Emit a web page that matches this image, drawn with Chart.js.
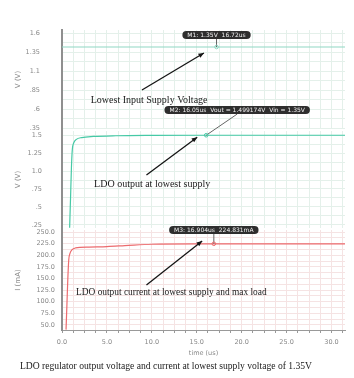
<!DOCTYPE html>
<html>
<head>
<meta charset="utf-8">
<script src="https://cdn.jsdelivr.net/npm/chart.js@4.4.1/dist/chart.umd.min.js"></script>
<style>
  html, body { margin: 0; padding: 0; background: #fff; }
  #wrap { position: relative; width: 354px; height: 378px; overflow: hidden; }
  canvas { position: absolute; left: 0; display: block; }
  #caption {
    position: absolute; left: 20px; top: 360px;
    font-family: 'Liberation Serif', serif; font-size: 9.6px; color: #222;
    white-space: nowrap;
  }
</style>
</head>
<body>
<div id="wrap">
  <canvas id="cTop" width="354" height="115" style="top:20px"></canvas>
  <canvas id="cMid" width="354" height="135" style="top:100px"></canvas>
  <canvas id="cBot" width="354" height="145" style="top:215px"></canvas>
  <div id="caption">LDO regulator output voltage and current at lowest supply voltage of 1.35V</div>
</div>
<script>
// ---- données ----
// axe du temps (us)
const xTickValues = [0, 5, 10, 15, 20, 25, 30];
const xTickLabels = ['0.0', '5.0', '10.0', '15.0', '20.0', '25.0', '30.0'];

// panneau 1 : tension d'alimentation
const timeVin = [0, 5, 10, 15, 20, 25, 31.5];
const vin     = [1.416, 1.416, 1.416, 1.416, 1.416, 1.416, 1.416];
const topTickValues = [0.35, 0.6, 0.85, 1.1, 1.35, 1.6];
const topTickLabels = ['.35', '.6', '.85', '1.1', '1.35', '1.6'];

// panneau 2 : sortie du LDO
const timeVout = [0.85, 0.95, 1.05, 1.15, 1.3, 1.6, 2.2, 3.5, 6, 10, 16, 24, 31.5];
const vout     = [0.21, 0.62, 1.05, 1.3, 1.39, 1.44, 1.465, 1.48, 1.49, 1.495, 1.497, 1.497, 1.497];
const midTickValues = [0.25, 0.5, 0.75, 1.0, 1.25, 1.5];
const midTickLabels = ['.25', '.5', '.75', '1.0', '1.25', '1.5'];

// panneau 3 : courant de sortie (mA)
const timeIout = [0.45, 0.55, 0.65, 0.75, 0.9, 1.1, 1.5, 3, 5, 7, 10, 15, 22, 31.5];
const iout     = [40, 95, 150, 190, 205, 212, 216, 218, 219, 221, 224, 225, 225, 225];
const botTickValues = [50, 75, 100, 125, 150, 175, 200, 225, 250];
const botTickLabels = ['50.0', '75.0', '100.0', '125.0', '150.0', '175.0', '200.0', '225.0', '250.0'];

// ---- annotations (coordonnées en unités de données) ----
function notes(cfg) {
  return {
    id: 'notes',
    afterDatasetsDraw(chart) {
      const { ctx, scales: { x, y } } = chart;
      const px = p => [x.getPixelForValue(p[0]), y.getPixelForValue(p[1])];
      ctx.save();

      // étiquette du marqueur + liaison
      const [mx, my] = px(cfg.markAt);
      const [bx, by] = px(cfg.boxAt);
      ctx.font = '6px "DejaVu Sans"';
      const w = ctx.measureText(cfg.boxText).width + 10, h = 8;
      ctx.strokeStyle = '#666';
      ctx.lineWidth = 1;
      ctx.beginPath();
      ctx.moveTo(bx, by + h / 2);
      ctx.lineTo(mx, my);
      ctx.stroke();
      ctx.fillStyle = '#2e2e2e';
      ctx.beginPath();
      ctx.roundRect(bx - w / 2, by - h / 2, w, h, 4);
      ctx.fill();
      ctx.fillStyle = '#f2f2f2';
      ctx.textAlign = 'center';
      ctx.textBaseline = 'middle';
      ctx.fillText(cfg.boxText, bx, by + 0.5);
      ctx.strokeStyle = cfg.color;
      ctx.beginPath();
      ctx.arc(mx, my, 1.8, 0, Math.PI * 2);
      ctx.stroke();

      // flèche
      const [ax, ay] = px(cfg.arrowFrom);
      const [tx, ty] = px(cfg.arrowTo);
      ctx.strokeStyle = '#151515';
      ctx.fillStyle = '#151515';
      ctx.lineWidth = 1.3;
      ctx.beginPath();
      ctx.moveTo(ax, ay);
      ctx.lineTo(tx, ty);
      ctx.stroke();
      const ang = Math.atan2(ty - ay, tx - ax);
      ctx.beginPath();
      ctx.moveTo(tx, ty);
      ctx.lineTo(tx - 6 * Math.cos(ang - 0.4), ty - 6 * Math.sin(ang - 0.4));
      ctx.lineTo(tx - 6 * Math.cos(ang + 0.4), ty - 6 * Math.sin(ang + 0.4));
      ctx.closePath();
      ctx.fill();

      // texte
      const [lx, ly] = px(cfg.textAt);
      ctx.font = cfg.font;
      ctx.fillStyle = '#1a1a1a';
      ctx.textAlign = 'left';
      ctx.textBaseline = 'middle';
      ctx.fillText(cfg.text, lx, ly);
      ctx.restore();
    }
  };
}

// graduations majeures + lignes intermédiaires
function withMinor(major, parts) {
  const out = [];
  major.forEach((v, i) => {
    out.push(v);
    if (i < major.length - 1) {
      for (let k = 1; k < parts; k++) out.push(v + (major[i + 1] - v) * k / parts);
    }
  });
  return out;
}

function labelFor(values, labels) {
  return v => {
    const i = values.findIndex(m => Math.abs(m - v) < 1e-6);
    return i >= 0 ? labels[i] : '';
  };
}

const xGrid = withMinor(xTickValues, 4).concat([31.25]);

function panel(id, o) {
  return new Chart(document.getElementById(id), {
    type: 'line',
    data: {
      datasets: [{
        data: o.t.map((t, i) => ({ x: t, y: o.v[i] })),
        borderColor: o.color,
        borderWidth: 1.2,
        pointRadius: 0,
        tension: 0.3,
        cubicInterpolationMode: 'monotone'
      }]
    },
    options: {
      responsive: false,
      animation: false,
      layout: { padding: { left: 12, right: 9, top: o.padTop, bottom: 0 } },
      plugins: { legend: { display: false }, tooltip: { enabled: false } },
      scales: {
        x: {
          type: 'linear',
          min: 0,
          max: 31.5,
          afterBuildTicks: s => { s.ticks = xGrid.map(v => ({ value: v })); },
          afterFit: s => { s.height = o.xHeight; },
          grid: { color: o.grid, drawTicks: o.showX, tickLength: 3, tickColor: '#999' },
          border: { display: o.showX, color: '#999', width: 1 },
          ticks: {
            display: o.showX,
            autoSkip: false,
            maxRotation: 0,
            padding: 5,
            color: '#888',
            font: { family: 'DejaVu Sans', size: 6.5 },
            callback: labelFor(xTickValues, xTickLabels)
          },
          title: {
            display: o.showX,
            text: 'time (us)',
            color: '#888',
            font: { family: 'DejaVu Sans', size: 6.5 },
            padding: { top: 0, bottom: 3 }
          }
        },
        y: {
          min: o.min,
          max: o.max,
          afterBuildTicks: s => { s.ticks = withMinor(o.ticks, 2).map(v => ({ value: v })); },
          afterFit: s => { s.width = 50; },
          // la longueur de graduation (invisible) sert à décaler les étiquettes
          grid: { color: o.grid, drawTicks: true, tickLength: o.tickGap, tickColor: 'transparent' },
          border: { color: '#8f8f8f', width: 2 },
          ticks: {
            autoSkip: false,
            padding: 2,
            color: '#888',
            font: { family: 'DejaVu Sans', size: 6.5 },
            callback: labelFor(o.ticks, o.labels)
          },
          title: {
            display: true,
            text: o.title,
            color: '#888',
            font: { family: 'DejaVu Sans', size: 7 },
            padding: { top: 2, bottom: 0 }
          }
        }
      }
    },
    plugins: [notes(o.notes)]
  });
}

panel('cTop', {
  t: timeVin, v: vin, color: '#8fd8c3', grid: '#e4f0ea',
  min: 0.337, max: 1.64, ticks: topTickValues, labels: topTickLabels,
  title: 'V (V)', tickGap: 20, padTop: 10, xHeight: 6, showX: false,
  notes: {
    boxText: 'M1: 1.35V  16.72us', boxAt: [17.2, 1.574], markAt: [17.2, 1.416], color: '#8fd8c3',
    arrowFrom: [8.9, 0.85], arrowTo: [15.8, 1.337],
    text: 'Lowest Input Supply Voltage', textAt: [3.2, 0.718], font: '10px "Liberation Serif"'
  }
});

panel('cMid', {
  t: timeVout, v: vout, color: '#46c9a6', grid: '#e4f0ea',
  min: 0.208, max: 1.556, ticks: midTickValues, labels: midTickLabels,
  title: 'V (V)', tickGap: 18, padTop: 31, xHeight: 7, showX: false,
  notes: {
    boxText: 'M2: 16.05us  Vout = 1.499174V  Vin = 1.35V', boxAt: [19.5, 1.847], markAt: [16.05, 1.497], color: '#46c9a6',
    arrowFrom: [9.4, 0.944], arrowTo: [15.05, 1.47],
    text: 'LDO output at lowest supply', textAt: [3.57, 0.82], font: '10px "Liberation Serif"'
  }
});

panel('cBot', {
  t: timeIout, v: iout, color: '#ec6b6e', grid: '#f5e3e3',
  min: 39.2, max: 254.7, ticks: botTickValues, labels: botTickLabels,
  title: 'I (mA)', tickGap: 5, padTop: 15, xHeight: 30, showX: true,
  notes: {
    boxText: 'M3: 16.904us  224.831mA', boxAt: [16.9, 254.7], markAt: [16.9, 225], color: '#ec6b6e',
    arrowFrom: [9.4, 136], arrowTo: [15.6, 231],
    text: 'LDO output current at lowest supply and max load', textAt: [1.56, 121], font: '9.4px "Liberation Serif"'
  }
});
</script>
</body>
</html>
